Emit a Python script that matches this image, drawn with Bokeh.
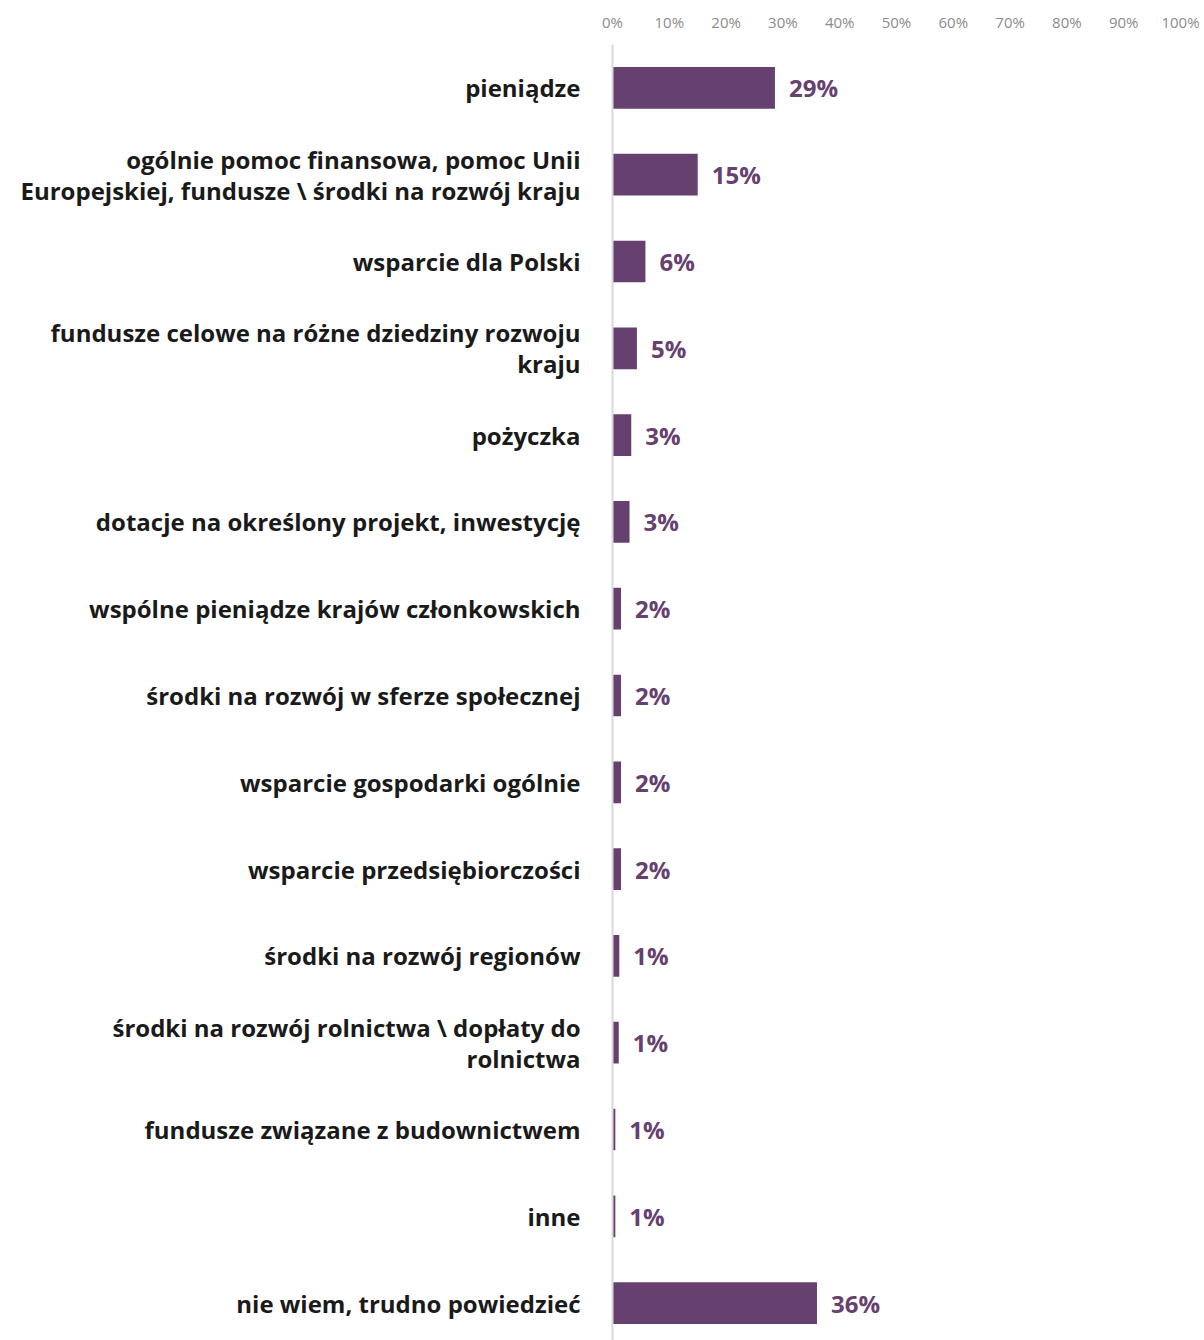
from bokeh.plotting import figure
from bokeh.models import ColumnDataSource, Range1d, FixedTicker, PrintfTickFormatter
from bokeh.core.properties import value
from bokeh.embed import file_html
from bokeh.resources import INLINE

categories = [
    "pieniądze",
    "ogólnie pomoc finansowa, pomoc Unii\nEuropejskiej, fundusze \\ środki na rozwój kraju",
    "wsparcie dla Polski",
    "fundusze celowe na różne dziedziny rozwoju\nkraju",
    "pożyczka",
    "dotacje na określony projekt, inwestycję",
    "wspólne pieniądze krajów członkowskich",
    "środki na rozwój w sferze społecznej",
    "wsparcie gospodarki ogólnie",
    "wsparcie przedsiębiorczości",
    "środki na rozwój regionów",
    "środki na rozwój rolnictwa \\ dopłaty do\nrolnictwa",
    "fundusze związane z budownictwem",
    "inne",
    "nie wiem, trudno powiedzieć",
]
values = [28.6, 15.0, 5.8, 4.3, 3.3, 3.0, 1.5, 1.5, 1.5, 1.5, 1.2, 1.1, 0.5, 0.5, 36.0]
value_labels = ["29%", "15%", "6%", "5%", "3%", "3%", "2%", "2%", "2%", "2%", "1%", "1%", "1%", "1%", "36%"]
x_ticks = [0, 10, 20, 30, 40, 50, 60, 70, 80, 90, 100]

FONT = "Open Sans"
PURPLE = "#66406f"

idx = list(range(len(categories)))
src = ColumnDataSource(dict(y=idx, v=values, lab=value_labels, cat=categories))

W, H = 1200, 1340
LEFT, TOP = 612, 44
RIGHT = W - 1180
p = figure(width=W, height=H, output_backend="svg", toolbar_location=None,
           x_range=Range1d(0, 100), y_range=Range1d(-0.5 + (H - TOP) / 86.8, -0.5),
           x_axis_location="above", min_border_left=LEFT, min_border_right=RIGHT,
           min_border_top=TOP, min_border_bottom=0)
p.outline_line_color = None
p.grid.grid_line_color = None
p.background_fill_color = "white"
p.border_fill_color = "white"

p.hbar(y="y", left=0, right="v", height=0.48, source=src, color=PURPLE, line_color=None)
p.text(x="v", y="y", text="lab", source=src, x_offset=14, text_align="left",
       text_baseline="middle", text_font=value(FONT), text_font_style="bold",
       text_font_size="24px", text_color=PURPLE)

xa = p.xaxis[0]
xa.ticker = FixedTicker(ticks=x_ticks)
xa.formatter = PrintfTickFormatter(format="%d%%")
xa.axis_line_color = None
xa.major_tick_line_color = None
xa.minor_tick_line_color = None
xa.major_label_text_color = "#8c8c8c"
xa.major_label_text_font = FONT
xa.major_label_text_font_size = "15px"
xa.major_label_standoff = 7

ya = p.yaxis[0]
ya.ticker = FixedTicker(ticks=idx)
ya.major_label_overrides = {i: c for i, c in zip(idx, categories)}
ya.axis_line_color = "#d9d9d9"
ya.axis_line_width = 2
ya.major_tick_line_color = None
ya.minor_tick_line_color = None
ya.major_label_text_color = "#1a1a1a"
ya.major_label_text_font = FONT
ya.major_label_text_font_style = "bold"
ya.major_label_text_font_size = "24px"
ya.major_label_text_line_height = 0.95
ya.major_label_standoff = 26

open("out.html", "w").write(file_html(p, INLINE))
